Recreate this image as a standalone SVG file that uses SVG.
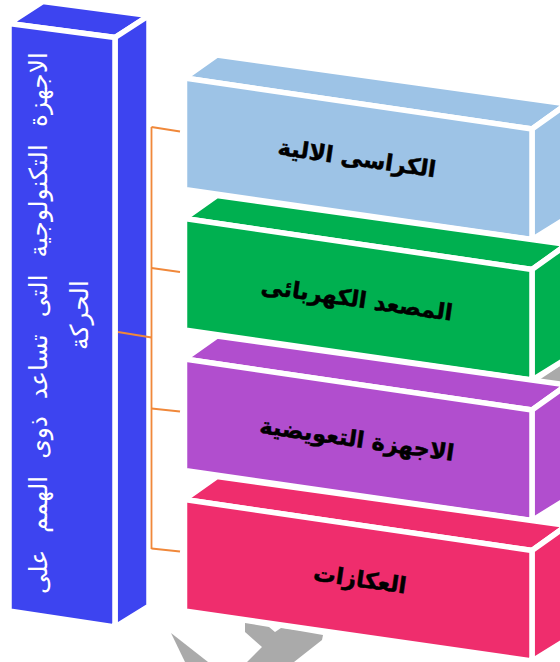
<svg xmlns="http://www.w3.org/2000/svg" xmlns:xlink="http://www.w3.org/1999/xlink" width="560" height="662" viewBox="0 0 560 662">
<style>
.face{stroke:#fff;stroke-width:5.5;stroke-linejoin:miter}
.lbl{font-family:"DejaVu Sans",sans-serif;font-weight:bold;font-size:22.5px;fill:#000;stroke:#000;stroke-width:0.5;text-anchor:middle;dominant-baseline:central}
.vlbl{font-family:"DejaVu Sans",sans-serif;font-size:25px;word-spacing:9px;fill:#fff;text-anchor:middle}
.conn{stroke:#F0883A;stroke-width:1.8;fill:none}
.arrow{fill:#AAAAAA}
</style>
<defs>
<g id="cube">
<polygon class="face" points="184.5,78 217,55 567,104 532,129"/>
<polygon class="face" points="532,129 567,104 567,218 532,239.5"/>
<polygon class="face" points="184.5,78 532,129 532,239.5 184.5,189.5"/>
</g>
</defs>
<rect width="560" height="662" fill="#fff"/>

<g id="gray-arrow">
<polygon class="arrow" points="530,386 566,362 566,390"/>
<polygon class="arrow" points="171,633 208,662 185,662"/>
<polygon class="arrow" points="245,623 269,627 275,632 281,628 300,631 323,635 322,640 294,662 247,662 262,647 245,632"/>
</g>

<g id="node-main">
<polygon class="face" fill="#3D44F0" points="9,23.5 43,1.5 149,15.5 115,37.5"/>
<polygon class="face" fill="#3D44F0" points="115,37.5 149,15.5 149,606 115,627"/>
<polygon class="face" fill="#3D44F0" points="9,23.5 115,37.5 115,627 9,611"/>
<text class="vlbl" transform="translate(47,323) rotate(-90)">الاجهزة التكنولوجية التى تساعد ذوى الهمم على</text>
<text class="vlbl" transform="translate(88,315) rotate(-90)">الحركة</text>
</g>

<g id="connectors">
<path class="conn" d="M118,332 L151.5,337.5"/>
<path class="conn" d="M151.5,127 V549"/>
<path class="conn" d="M151.5,127 L180,131.5"/>
<path class="conn" d="M151.5,268 L180,272"/>
<path class="conn" d="M151.5,408.5 L180,411.5"/>
<path class="conn" d="M151.5,548.5 L180,551.5"/>
</g>

<g id="node-1">
<use xlink:href="#cube" href="#cube" fill="#9DC3E6"/>
<text class="lbl" transform="translate(357,158) rotate(8.2)">الكراسى الالية</text>
</g>
<g id="node-2">
<use xlink:href="#cube" href="#cube" fill="#00B050" transform="translate(0,140.5)"/>
<text class="lbl" transform="translate(357,299) rotate(8.2)">المصعد الكهربائى</text>
</g>
<g id="node-3">
<use xlink:href="#cube" href="#cube" fill="#B14ECE" transform="translate(0,281)"/>
<text class="lbl" transform="translate(357,439) rotate(8.2)">الاجهزة التعويضية</text>
</g>
<g id="node-4">
<use xlink:href="#cube" href="#cube" fill="#EF2D6D" transform="translate(0,421.5)"/>
<text class="lbl" transform="translate(360,579) rotate(8.2)">العكازات</text>
</g>
</svg>
